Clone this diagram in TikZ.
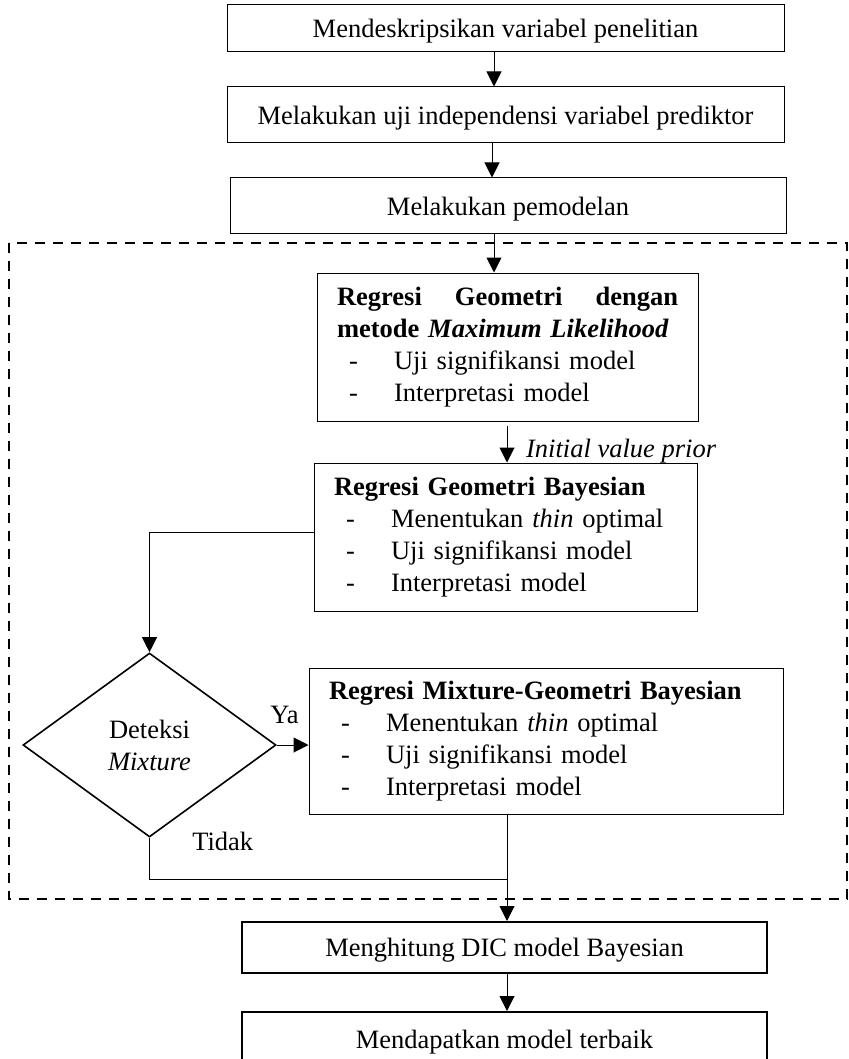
\documentclass[tikz,border=0pt]{standalone}
\usepackage{fontspec}
\setmainfont{Liberation Serif}
\usepackage{tikz}
\usetikzlibrary{shapes.geometric,arrows.meta}
\setlength{\parindent}{0pt}
\newcommand{\butir}[1]{\hspace*{6pt}\makebox[22.5pt][l]{-}#1\par}

\begin{document}
\begin{tikzpicture}[x=0.5pt, y=-0.5pt, font=\fontsize{13.25}{16}\selectfont,
  >={Triangle[length=7.5pt,width=7.5pt]},
  kotak/.style={shape=rectangle, draw, line width=0.5pt, text depth=0pt, inner sep=0pt},
  kotaktebal/.style={kotak, line width=1pt},
  kotakisi/.style={shape=rectangle, draw, line width=0.5pt, inner xsep=10pt, inner ysep=0pt, align=left},
  bingkai/.style={line width=1.4pt, dash pattern=on 5pt off 4pt},
  panah/.style={->, line width=0.5pt}]
\useasboundingbox (0,0) rectangle (849,1059);
\node at (505.5, 28.5) [kotak, minimum width=278.5pt, minimum height=23.5pt] (deskripsi) {Mendeskripsikan variabel penelitian};
\node at (505.5, 115) [kotak, minimum width=278.5pt, minimum height=28pt] (uji) {Melakukan uji independensi variabel prediktor};
\node at (508, 206) [kotak, minimum width=278pt, minimum height=28pt] (pemodelan) {Melakukan pemodelan};
\draw [bingkai] (9,243) rectangle (847,899);
\node at (507.5, 347) [kotakisi, text width=170.5pt, minimum height=74pt] (ml) {\textbf{\makebox[170.5pt][l]{Regresi\hfill Geometri\hfill dengan}}\par
  \textbf{metode \textit{Maximum Likelihood}}\par
  \butir{Uji signifikansi model}
  \butir{Interpretasi model}};
\node at (505.5, 537) [kotakisi, text width=171.5pt, minimum height=74pt] (bayes) {\textbf{Regresi Geometri Bayesian}\par
  \butir{Menentukan \textit{thin} optimal}
  \butir{Uji signifikansi model}
  \butir{Interpretasi model}};
\node at (149.5, 745) [shape=diamond, draw, line width=0.8pt, minimum width=126.5pt, minimum height=92pt, inner sep=0pt, align=center] (deteksi) {Deteksi\\\textit{Mixture}};
\node at (546, 741) [kotakisi, text width=217pt, minimum height=73pt] (mixbayes) {\textbf{Regresi Mixture-Geometri Bayesian}\par
  \butir{Menentukan \textit{thin} optimal}
  \butir{Uji signifikansi model}
  \butir{Interpretasi model}};
\node at (504.5, 947.5) [kotaktebal, minimum width=262.5pt, minimum height=25.5pt] (dic) {Menghitung DIC model Bayesian};
\node at (504.5, 1039) [kotaktebal, minimum width=262.5pt, minimum height=27pt] (terbaik) {Mendapatkan model terbaik};
\coordinate (gabung) at (507, 879);
\draw [panah] ([xshift=-5.75pt]deskripsi.south) to ([xshift=-5.75pt]deskripsi.south |- uji.north);
\draw [panah] ([xshift=-6.75pt]uji.south) to ([xshift=-6.75pt]uji.south |- pemodelan.north);
\draw [panah] ([xshift=-7pt]pemodelan.south) to ([xshift=-7pt]pemodelan.south |- ml.north);
\draw [panah] ([xshift=-0.25pt,yshift=-2pt]ml.south) to node [pos=0.68, anchor=west, xshift=6pt] (awal) {\textit{Initial value prior}} ([xshift=-0.25pt]ml.south |- bayes.north);
\draw [panah] ([yshift=2.5pt]bayes.west) -| (deteksi.north);
\draw [panah] (deteksi.east) to node [pos=0.24, above=7pt] (ya) {Ya} (deteksi.east -| mixbayes.west);
\draw [line width=0.5pt] (deteksi.south) |- node [pos=0.048, anchor=west, xshift=17.8pt] (tidak) {Tidak} (gabung);
\draw [panah] ([xshift=-19.5pt]mixbayes.south) to ([xshift=-19.5pt]mixbayes.south |- dic.north);
\draw [panah] ([xshift=1.25pt]dic.south) to ([xshift=1.25pt]dic.south |- terbaik.north);
\end{tikzpicture}
\end{document}
